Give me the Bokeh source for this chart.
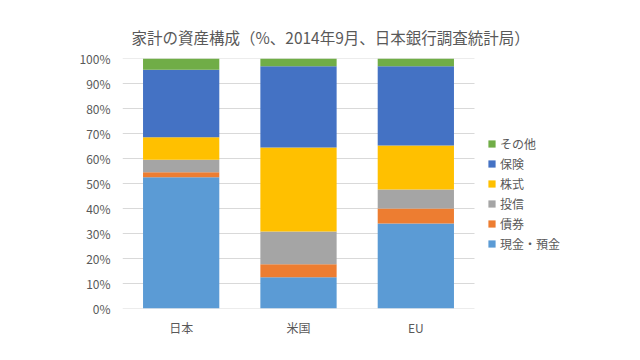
from bokeh.plotting import figure
from bokeh.models import Range1d, Legend, LegendItem, FixedTicker, ColumnDataSource
from bokeh.embed import file_html
from bokeh.resources import INLINE

categories = ["日本", "米国", "EU"]
series_names = ["現金・預金", "債券", "投信", "株式", "保険", "その他"]
cash = [52.5, 12.5, 34.0]
bonds = [2.0, 5.2, 6.0]
trusts = [5.0, 13.1, 7.6]
stocks = [9.0, 33.6, 17.6]
insurance = [27.0, 32.5, 31.7]
other = [4.5, 3.1, 3.1]
colors = ["#5B9BD5", "#ED7D31", "#A5A5A5", "#FFC000", "#4472C4", "#70AD47"]
y_ticks = [0, 10, 20, 30, 40, 50, 60, 70, 80, 90, 100]
y_tick_labels = ["0%", "10%", "20%", "30%", "40%", "50%", "60%", "70%", "80%", "90%", "100%"]
title_text = "家計の資産構成（%、2014年9月、日本銀行調査統計局）"

FONT = "Noto Sans CJK JP"
GREY = "#595959"
GRID = "#D9D9D9"

n = len(categories)
xpos = [i + 0.5 for i in range(n)]
keys = ["cash", "bonds", "trusts", "stocks", "insurance", "other"]
source = ColumnDataSource(dict(x=xpos, cash=cash, bonds=bonds, trusts=trusts,
                               stocks=stocks, insurance=insurance, other=other))

# frame spans plot area plus legend space; category slot = 117.3px
p = figure(width=624, height=344, output_backend="svg", toolbar_location=None,
           x_range=Range1d(0, n * 494 / 352), y_range=Range1d(0, 100),
           min_border_left=122, min_border_right=8, min_border_top=58, min_border_bottom=36)

# gridlines limited to the category area
p.segment(x0=[0] * len(y_ticks), x1=[n] * len(y_ticks), y0=y_ticks, y1=y_ticks,
          line_color=GRID, line_width=1)

renderers = p.vbar_stack(keys, x="x", width=0.65, source=source, color=colors, line_color=None)

p.title.text = title_text
p.title.text_font = FONT
p.title.text_font_size = "15.5px"
p.title.text_font_style = "normal"
p.title.text_color = GREY
p.title.align = "left"
p.title.offset = 9
p.title.standoff = 22

p.outline_line_color = None
p.xgrid.grid_line_color = None
p.ygrid.grid_line_color = None

p.yaxis.ticker = FixedTicker(ticks=y_ticks)
p.yaxis.major_label_overrides = {t: l for t, l in zip(y_ticks, y_tick_labels)}
p.yaxis.axis_line_color = None
p.yaxis.major_tick_line_color = None
p.yaxis.major_tick_out = 0
p.yaxis.minor_tick_line_color = None
p.yaxis.minor_tick_out = 0
p.yaxis.major_label_standoff = 12
p.yaxis.major_label_text_font = FONT
p.yaxis.major_label_text_font_size = "12px"
p.yaxis.major_label_text_color = GREY

p.xaxis.ticker = FixedTicker(ticks=xpos)
p.xaxis.major_label_overrides = {x: c for x, c in zip(xpos, categories)}
p.xaxis.axis_line_color = None
p.xaxis.major_tick_line_color = None
p.xaxis.major_tick_out = 0
p.xaxis.minor_tick_line_color = None
p.xaxis.minor_tick_out = 0
p.xaxis.major_label_standoff = 10
p.xaxis.major_label_text_font = FONT
p.xaxis.major_label_text_font_size = "12px"
p.xaxis.major_label_text_color = GREY

items = [LegendItem(label=s, renderers=[r]) for s, r in zip(series_names, renderers)][::-1]
legend = Legend(items=items, location=(365, 55), padding=0, margin=0, spacing=0,
                glyph_width=9, glyph_height=9, label_height=20, label_standoff=4,
                label_text_font=FONT, label_text_font_size="12px", label_text_color=GREY,
                border_line_color=None, background_fill_alpha=0)
p.add_layout(legend, "center")

open("out.html", "w").write(file_html(p, INLINE))
